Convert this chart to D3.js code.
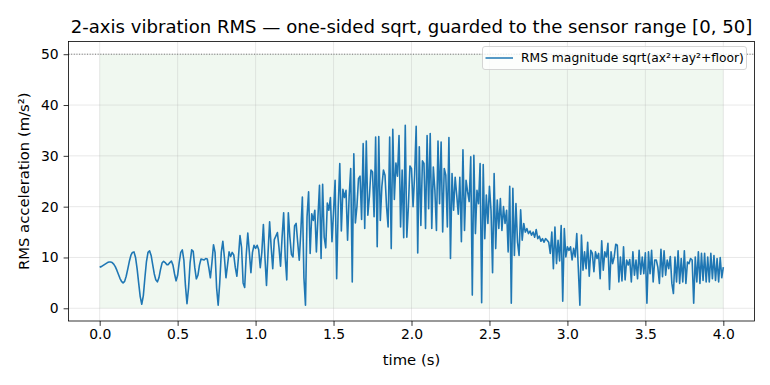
<!DOCTYPE html>
<html>
<head>
<meta charset="utf-8">
<script src="https://cdn.jsdelivr.net/npm/d3@7"></script>
<style>
  html, body { margin: 0; padding: 0; background: #fff; }
  svg { display: block; font-family: "DejaVu Sans", sans-serif; }
</style>
</head>
<body>
<svg id="chart" width="770" height="385"></svg>
<script>
// ---- data ----
const sampleStep = 0.01; // seconds between samples, t = 0 .. 4.0
const rmsValues = [
  8.1, 8.2, 8.4, 8.6, 8.8, 9.0, 9.1, 9.1, 9.0, 8.7,
  8.2, 7.5, 6.7, 5.9, 5.3, 5.0, 5.3, 6.3, 7.7, 9.2,
  10.4, 11.0, 11.1, 10.0, 7.8, 5.0, 2.3, 0.8, 2.5, 6.0,
  9.2, 11.0, 11.3, 10.4, 8.6, 6.8, 5.6, 5.2, 6.0, 7.6,
  8.9, 9.25, 9.0, 8.6, 8.6, 9.0, 9.3, 8.5, 6.8, 5.4,
  6.5, 9.0, 11.0, 11.5, 9.5, 4.5, 0.9, 4.0, 9.0, 11.5,
  11.2, 8.0, 5.8, 6.5, 8.5, 9.7, 9.6, 9.5, 9.8, 9.7,
  8.0, 6.0, 9.0, 12.5, 11.0, 4.0, 0.6, 5.0, 11.0, 13.2,
  10.0, 6.0, 8.5, 11.1, 10.2, 11.0, 10.5, 8.0, 6.3, 10.0,
  14.3, 12.0, 5.0, 4.1, 10.5, 14.8, 11.0, 7.0, 11.0, 12.4,
  11.8, 12.4, 11.5, 8.0, 11.0, 16.5, 10.0, 4.5, 11.0, 17.0,
  12.0, 7.8, 13.5, 14.2, 14.9, 12.0, 8.3, 14.0, 18.8, 10.0,
  5.6, 18.8, 14.0, 10.6, 10.1, 16.2, 16.7, 13.0, 9.45, 15.0,
  21.9, 6.0, 0.6, 18.0, 22.9, 10.8, 18.6, 17.3, 19.3, 11.1,
  18.0, 24.2, 9.8, 24.4, 14.0, 11.9, 20.7, 19.3, 21.8, 13.1,
  19.0, 25.2, 5.8, 20.0, 28.5, 15.2, 23.4, 21.8, 23.2, 13.4,
  22.0, 27.5, 5.2, 30.4, 16.8, 20.0, 25.5, 26.0, 17.5, 32.4,
  15.7, 32.9, 18.3, 22.0, 27.2, 26.8, 18.0, 33.7, 12.1, 33.8,
  17.3, 24.0, 27.2, 26.2, 20.0, 16.0, 33.7, 11.75, 35.2, 21.4,
  28.6, 26.0, 34.0, 16.0, 27.2, 13.9, 36.0, 14.0, 20.0, 28.0,
  27.5, 20.0, 26.2, 35.8, 10.9, 31.8, 16.3, 29.0, 28.5, 15.7,
  34.0, 19.6, 34.4, 15.7, 27.8, 23.2, 15.3, 32.9, 20.6, 32.7,
  15.0, 27.5, 26.2, 16.0, 33.6, 9.8, 26.5, 19.3, 25.8, 22.3,
  18.5, 25.8, 13.1, 31.2, 15.3, 25.2, 22.9, 21.0, 29.8, 2.6,
  30.1, 14.7, 23.2, 20.6, 28.5, 1.1, 28.3, 13.7, 22.3, 16.7,
  24.0, 19.3, 7.0, 26.5, 11.75, 21.3, 15.7, 21.6, 15.3, 20.0,
  16.7, 19.3, 11.1, 24.0, 1.0, 23.6, 10.4, 20.6, 13.0, 10.4,
  19.4, 13.4, 16.7, 15.0, 15.7, 14.7, 15.2, 14.4, 15.0, 14.0,
  15.5, 13.7, 14.2, 13.2, 13.7, 13.0, 13.7, 13.4, 13.0, 10.8,
  15.0, 7.8, 16.0, 8.8, 13.4, 9.3, 16.3, 1.4, 15.7, 10.1,
  12.1, 11.4, 12.1, 9.5, 11.8, 10.1, 14.7, 7.8, 0.6, 14.4,
  7.5, 11.1, 7.8, 13.0, 6.3, 11.4, 10.8, 7.2, 11.1, 9.8,
  10.8, 5.8, 13.3, 7.5, 11.1, 10.1, 12.8, 3.7, 11.1, 8.8,
  10.1, 12.6, 12.4, 5.2, 10.1, 5.4, 12.1, 5.6, 9.5, 8.5,
  9.6, 5.2, 11.1, 6.5, 9.5, 5.8, 11.4, 6.7, 10.1, 6.8,
  10.9, 1.0, 11.1, 6.8, 11.4, 5.2, 9.5, 9.5, 8.1, 4.9,
  11.6, 6.2, 11.3, 6.5, 9.5, 7.8, 10.2, 4.9, 2.9, 10.1,
  5.2, 11.3, 4.9, 9.8, 5.2, 11.3, 4.9, 9.1, 8.8, 9.8,
  9.5, 1.0, 10.1, 5.2, 11.1, 4.9, 10.8, 5.5, 10.8, 5.2,
  10.1, 5.2, 10.8, 5.8, 10.4, 5.5, 9.8, 5.2, 10.0, 6.0,
  8.1
];
const sensorRange = [0, 50];
const timeSpan = [0, 4];
const xTicks = [0, 0.5, 1, 1.5, 2, 2.5, 3, 3.5, 4];
const yTicks = [0, 10, 20, 30, 40, 50];
const titleText = "2-axis vibration RMS \u2014 one-sided sqrt, guarded to the sensor range [0, 50]";
const xLabelText = "time (s)";
const yLabelText = "RMS acceleration (m/s\u00b2)";
const legendText = "RMS magnitude sqrt(ax\u00b2+ay\u00b2+floor)";

const points = rmsValues.map((v, i) => ({ t: +(i * sampleStep).toFixed(2), v }));

// ---- layout ----
const m = { left: 68.5, right: 754.5, top: 41.5, bottom: 321 };
const svg = d3.select("#chart");

const x = d3.scaleLinear().domain([-0.2, 4.2]).range([m.left, m.right]);
const y = d3.scaleLinear().domain([-2.5, 52.5]).range([m.bottom, m.top]);

// shaded valid-range region
svg.append("rect")
  .attr("x", x(timeSpan[0])).attr("y", y(sensorRange[1]))
  .attr("width", x(timeSpan[1]) - x(timeSpan[0]))
  .attr("height", y(sensorRange[0]) - y(sensorRange[1]))
  .attr("fill", "#2ca02c").attr("fill-opacity", 0.07);

// grid
const grid = svg.append("g").attr("stroke", "#b0b0b0").attr("stroke-opacity", 0.35).attr("stroke-width", 0.8);
grid.selectAll("line.gx").data(xTicks).enter().append("line")
  .attr("x1", d => x(d)).attr("x2", d => x(d)).attr("y1", m.top).attr("y2", m.bottom);
grid.selectAll("line.gy").data(yTicks).enter().append("line")
  .attr("y1", d => y(d)).attr("y2", d => y(d)).attr("x1", m.left).attr("x2", m.right);

// sensor ceiling dotted line
svg.append("line")
  .attr("x1", m.left).attr("x2", m.right)
  .attr("y1", y(sensorRange[1])).attr("y2", y(sensorRange[1]))
  .attr("stroke", "#555").attr("stroke-opacity", 0.8).attr("stroke-width", 1)
  .attr("stroke-dasharray", "1,1.65");

// data line
const line = d3.line().x(d => x(d.t)).y(d => y(d.v));
svg.append("path").datum(points)
  .attr("d", line)
  .attr("fill", "none").attr("stroke", "#1f77b4").attr("stroke-width", 1.6)
  .attr("stroke-linejoin", "round");

// axes frame
svg.append("rect")
  .attr("x", m.left).attr("y", m.top)
  .attr("width", m.right - m.left).attr("height", m.bottom - m.top)
  .attr("fill", "none").attr("stroke", "#000").attr("stroke-width", 0.8);

// x axis
const xAxis = d3.axisBottom(x).tickValues(xTicks).tickFormat(d3.format(".1f"))
  .tickSize(4.9).tickPadding(3.5);
const gx = svg.append("g").attr("transform", `translate(0,${m.bottom})`).call(xAxis);
gx.select(".domain").remove();
gx.selectAll(".tick line").attr("stroke", "#000").attr("stroke-width", 0.8);
gx.selectAll(".tick text").attr("font-family", "DejaVu Sans").attr("font-size", 13.9).attr("fill", "#000");

// y axis
const yAxis = d3.axisLeft(y).tickValues(yTicks).tickFormat(d3.format("d"))
  .tickSize(4.9).tickPadding(4.9);
const gy = svg.append("g").attr("transform", `translate(${m.left},0)`).call(yAxis);
gy.select(".domain").remove();
gy.selectAll(".tick line").attr("stroke", "#000").attr("stroke-width", 0.8);
gy.selectAll(".tick text").attr("font-family", "DejaVu Sans").attr("font-size", 13.9).attr("fill", "#000");

// title and labels
svg.append("text").attr("x", (m.left + m.right) / 2).attr("y", 32.5)
  .attr("text-anchor", "middle").attr("font-size", 18.1).attr("fill", "#000").text(titleText);
svg.append("text").attr("x", (m.left + m.right) / 2).attr("y", 364.5)
  .attr("text-anchor", "middle").attr("font-size", 14.8).attr("fill", "#000").text(xLabelText);
svg.append("text").attr("transform", `translate(29,${(m.top + m.bottom) / 2}) rotate(-90)`)
  .attr("text-anchor", "middle").attr("font-size", 14.8).attr("fill", "#000").text(yLabelText);

// legend
const lg = svg.append("g");
lg.append("rect").attr("x", 482.5).attr("y", 46.5).attr("width", 264).attr("height", 23)
  .attr("rx", 2.5).attr("fill", "#fff").attr("fill-opacity", 0.8)
  .attr("stroke", "#cccccc").attr("stroke-width", 0.8);
lg.append("line").attr("x1", 485.5).attr("x2", 513).attr("y1", 58).attr("y2", 58)
  .attr("stroke", "#1f77b4").attr("stroke-width", 1.5);
lg.append("text").attr("x", 521).attr("y", 62.3).attr("font-size", 12.3).attr("fill", "#000").text(legendText);
</script>
</body>
</html>
